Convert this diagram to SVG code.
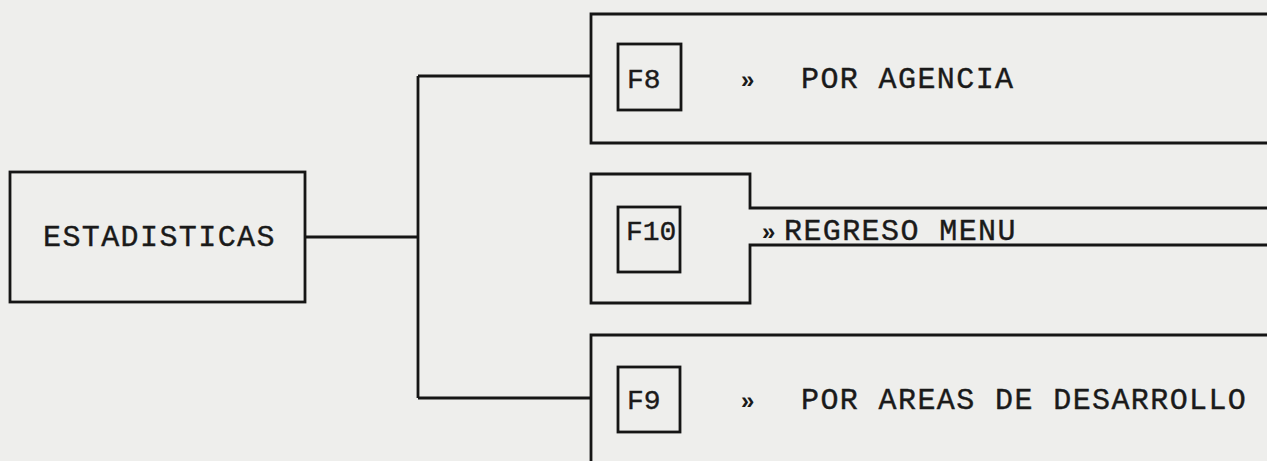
<svg xmlns="http://www.w3.org/2000/svg" width="1267" height="461" viewBox="0 0 1267 461">
<style>
.ln{fill:none;stroke:#151515;stroke-width:2.8;stroke-linejoin:miter}
.tx{font-family:"Liberation Mono","DejaVu Sans Mono",monospace;font-size:30px;fill:#1a1a1a;stroke:#1a1a1a;stroke-width:0.4;letter-spacing:1.4px}
.fk{font-family:"Liberation Mono","DejaVu Sans Mono",monospace;font-size:28px;fill:#1a1a1a;stroke:#1a1a1a;stroke-width:0.4}
.ar{font-family:"Liberation Sans","DejaVu Sans",sans-serif;font-size:24px;font-weight:bold;fill:#1a1a1a}
</style>
<rect width="1267" height="461" fill="#eeeeec"/>
<g id="connectors">
<path class="ln" d="M305 237 H418 M418 76 V398 M418 76 H591 M418 398 H591"/>
</g>
<g id="estadisticas">
<rect class="ln" x="10" y="172" width="295" height="130"/>
<text class="tx" x="43" y="246">ESTADISTICAS</text>
</g>
<g id="por-agencia">
<path class="ln" d="M1268 14 H591 V143 H1268"/>
<rect class="ln" x="618" y="44" width="63" height="66"/>
<text class="fk" x="627" y="88">F8</text>
<text class="ar" x="741" y="88">»</text>
<text class="tx" x="801" y="88">POR AGENCIA</text>
</g>
<g id="regreso-menu">
<path class="ln" d="M1268 208 H750 V174 H591 V303 H750 V245 H1268"/>
<rect class="ln" x="618" y="207" width="62" height="65"/>
<text class="fk" x="626" y="240">F10</text>
<text class="ar" x="762" y="240">»</text>
<text class="tx" x="784" y="240">REGRESO MENU</text>
</g>
<g id="por-areas">
<path class="ln" d="M1268 335 H591 V462"/>
<rect class="ln" x="618" y="367" width="62" height="65"/>
<text class="fk" x="627" y="409">F9</text>
<text class="ar" x="741" y="409">»</text>
<text class="tx" x="801" y="409">POR AREAS DE DESARROLLO</text>
</g>
</svg>
